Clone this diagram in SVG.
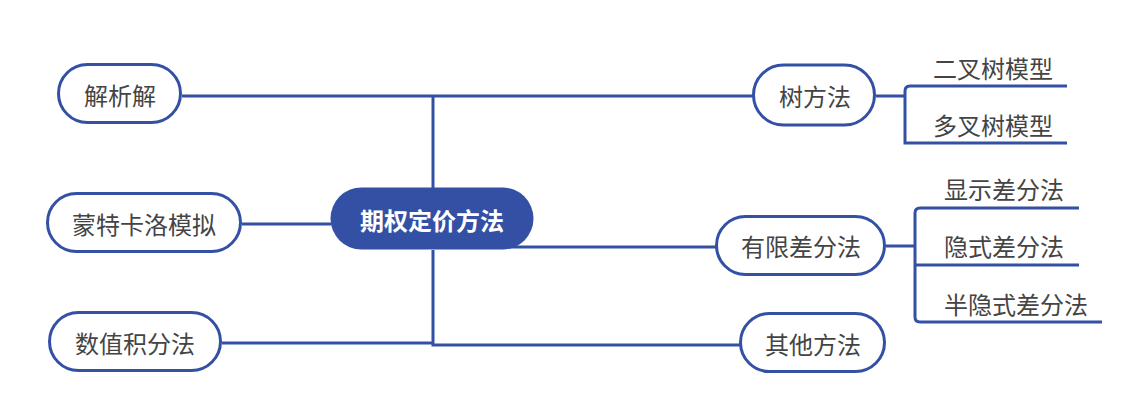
<svg xmlns="http://www.w3.org/2000/svg" width="1146" height="419" viewBox="0 0 1146 419">
<style>
.bg{fill:#ffffff}
.node rect{fill:#ffffff;stroke:#3350A4;stroke-width:3}
.node text,.leaf text{font-family:"Noto Sans CJK SC","Noto Sans",sans-serif;font-size:24px;fill:#444444;dominant-baseline:central}
.node text{text-anchor:middle}
.root rect{fill:#3350A4;stroke:none}
.root text{font-family:"Noto Sans CJK SC","Noto Sans",sans-serif;font-size:24px;font-weight:bold;fill:#ffffff;text-anchor:middle;dominant-baseline:central}
.conn path{fill:none;stroke:#3350A4;stroke-width:3}
</style>
<rect class="bg" x="0" y="0" width="1146" height="419"/>
<g id="connectors" class="conn">
<path d="M182 96 H753"/>
<path d="M433 96 V188"/>
<path d="M433 250 V345 H740"/>
<path d="M222 343 H433"/>
<path d="M242 224 H331"/>
<path d="M505 247 H716"/>
<path d="M876 96 H905"/>
<path d="M1067 86 H910 Q905 86 905 91 V143 H1067"/>
<path d="M886 246 H915"/>
<path d="M1079 208 H920 Q915 208 915 213 V317 Q915 322 920 322 H1102"/>
<path d="M915 265 H1079"/>
</g>
<g id="root" class="root">
<rect x="330.5" y="187.5" width="203" height="62" rx="31"/>
<text x="432" y="219">期权定价方法</text>
</g>
<g id="n-jiexijie" class="node">
<rect x="58.5" y="64.5" width="122" height="58" rx="29"/>
<text x="120" y="94">解析解</text>
</g>
<g id="n-montecarlo" class="node">
<rect x="47.5" y="193.5" width="193" height="58" rx="29"/>
<text x="144" y="223">蒙特卡洛模拟</text>
</g>
<g id="n-numint" class="node">
<rect x="49.5" y="312.5" width="171" height="58" rx="29"/>
<text x="135" y="342">数值积分法</text>
</g>
<g id="n-tree" class="node">
<rect x="753.5" y="65" width="121" height="60" rx="30"/>
<text x="815" y="95">树方法</text>
</g>
<g id="n-fdm" class="node">
<rect x="716.5" y="216.5" width="168" height="58" rx="29"/>
<text x="801" y="245.5">有限差分法</text>
</g>
<g id="n-other" class="node">
<rect x="740.5" y="313.5" width="144" height="58" rx="29"/>
<text x="813" y="343">其他方法</text>
</g>
<g id="leaf-binomial" class="leaf"><text x="933" y="67.5">二叉树模型</text></g>
<g id="leaf-multinomial" class="leaf"><text x="933" y="124.5">多叉树模型</text></g>
<g id="leaf-explicit" class="leaf"><text x="944" y="188">显示差分法</text></g>
<g id="leaf-implicit" class="leaf"><text x="944" y="245.5">隐式差分法</text></g>
<g id="leaf-semi" class="leaf"><text x="944" y="303">半隐式差分法</text></g>
</svg>
